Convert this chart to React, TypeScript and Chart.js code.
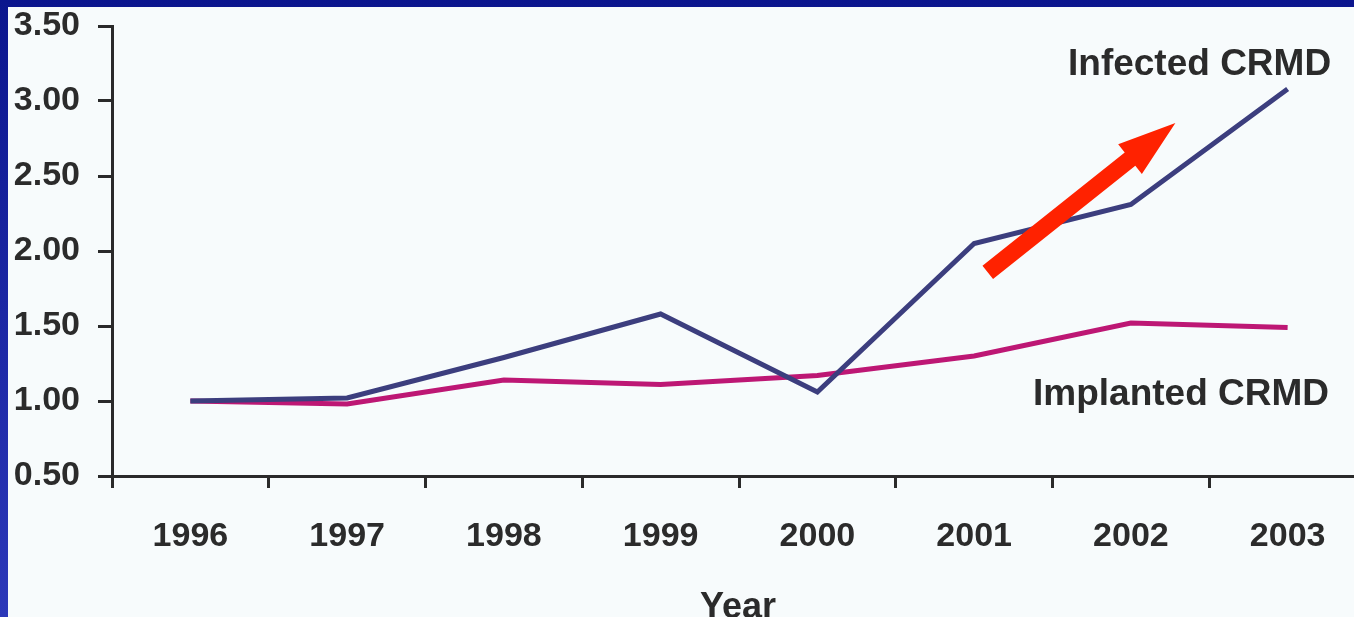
import React, { useEffect, useRef } from "react";
import { Chart, registerables } from "chart.js";

Chart.register(...registerables);

const years = ["1996", "1997", "1998", "1999", "2000", "2001", "2002", "2003"];
const infectedCRMD = [1.0, 1.02, 1.29, 1.58, 1.06, 2.05, 2.31, 3.08];
const implantedCRMD = [1.0, 0.98, 1.14, 1.11, 1.17, 1.3, 1.52, 1.49];
const yTicks = [0.5, 1.0, 1.5, 2.0, 2.5, 3.0, 3.5];
const arrowFrom = { x: 5.087, y: 1.857 };
const arrowTo = { x: 6.284, y: 2.853 };

const FONT = "'Liberation Sans', Arial, sans-serif";

const annotationPlugin = {
  id: "annotations",
  afterDatasetsDraw(chart: any) {
    const ctx = chart.ctx;
    const xs = chart.scales.x;
    const ys = chart.scales.y;
    // arrow
    const x0 = xs.getPixelForValue(arrowFrom.x);
    const y0 = ys.getPixelForValue(arrowFrom.y);
    const x1 = xs.getPixelForValue(arrowTo.x);
    const y1 = ys.getPixelForValue(arrowTo.y);
    const dx = x1 - x0;
    const dy = y1 - y0;
    const len = Math.sqrt(dx * dx + dy * dy);
    const ux = dx / len;
    const uy = dy / len;
    const px = -uy;
    const py = ux;
    const shaft = 8.5;
    const head = 19;
    const headLen = 58;
    const bx = x1 - ux * headLen;
    const by = y1 - uy * headLen;
    ctx.save();
    ctx.fillStyle = "#ff2200";
    ctx.beginPath();
    ctx.moveTo(x0 + px * shaft, y0 + py * shaft);
    ctx.lineTo(bx + px * shaft, by + py * shaft);
    ctx.lineTo(bx + px * head, by + py * head);
    ctx.lineTo(x1, y1);
    ctx.lineTo(bx - px * head, by - py * head);
    ctx.lineTo(bx - px * shaft, by - py * shaft);
    ctx.lineTo(x0 - px * shaft, y0 - py * shaft);
    ctx.closePath();
    ctx.fill();
    // labels
    ctx.fillStyle = "#2b2b2b";
    ctx.font = `bold 37px ${FONT}`;
    ctx.textAlign = "left";
    ctx.textBaseline = "alphabetic";
    ctx.fillText("Infected CRMD", 1060, 68);
    ctx.fillText("Implanted CRMD", 1025, 398);
    ctx.font = `bold 36px ${FONT}`;
    ctx.textAlign = "center";
    ctx.fillText("Year", 730, 611);
    ctx.restore();
  },
};

export default function App() {
  const ref = useRef<HTMLCanvasElement | null>(null);

  useEffect(() => {
    document.body.style.margin = "0";
    if (!ref.current) return;
    const chart = new Chart(ref.current, {
      type: "line",
      data: {
        labels: years,
        datasets: [
          {
            label: "Infected CRMD",
            data: infectedCRMD,
            borderColor: "#3c3e7e",
            borderWidth: 5,
            pointRadius: 0,
            tension: 0,
          },
          {
            label: "Implanted CRMD",
            data: implantedCRMD,
            borderColor: "#bd1774",
            borderWidth: 5,
            pointRadius: 0,
            tension: 0,
          },
        ],
      },
      options: {
        animation: false,
        responsive: false,
        maintainAspectRatio: false,
        layout: { padding: { top: 0, right: 22, bottom: 0, left: 0 } },
        plugins: {
          legend: { display: false },
          tooltip: { enabled: false },
          title: { display: false },
        },
        scales: {
          x: {
            type: "category",
            offset: true,
            grid: {
              offset: true,
              drawOnChartArea: false,
              drawTicks: true,
              tickLength: 12,
              tickWidth: 3,
              tickColor: "#2a2a2a",
            },
            border: { display: true, color: "#2a2a2a", width: 3 },
            ticks: {
              color: "#2b2b2b",
              font: { family: FONT, size: 34, weight: "bold" },
              padding: 28,
              maxRotation: 0,
              autoSkip: false,
            },
            afterFit: (scale: any) => {
              scale.height = 151;
            },
          },
          y: {
            min: 0.5,
            max: 3.5,
            afterBuildTicks: (scale: any) => {
              scale.ticks = yTicks.map((v) => ({ value: v }));
            },
            grid: {
              drawOnChartArea: false,
              drawTicks: true,
              tickLength: 14,
              tickWidth: 3,
              tickColor: "#2a2a2a",
            },
            border: { display: true, color: "#2a2a2a", width: 3 },
            ticks: {
              color: "#2b2b2b",
              font: { family: FONT, size: 34, weight: "bold" },
              padding: 18,
              callback: (v: any) => Number(v).toFixed(2),
            },
            afterFit: (scale: any) => {
              scale.width = 104;
              scale.paddingTop = 19;
              scale.paddingBottom = 0;
            },
          },
        },
      },
      plugins: [annotationPlugin],
    });
    return () => chart.destroy();
  }, []);

  return (
    <div
      style={{
        position: "fixed",
        left: 0,
        top: 0,
        width: 1354,
        height: 617,
        overflow: "hidden",
        background: "linear-gradient(180deg, #0b168e 0%, #1f2aa8 60%, #2c38b9 100%)",
      }}
    >
      <div
        style={{
          position: "absolute",
          left: 8,
          top: 7,
          width: 1346,
          height: 610,
          overflow: "hidden",
          background: "#f7fbfc",
        }}
      >
        <canvas ref={ref} width={1380} height={620} style={{ display: "block" }} />
      </div>
    </div>
  );
}
